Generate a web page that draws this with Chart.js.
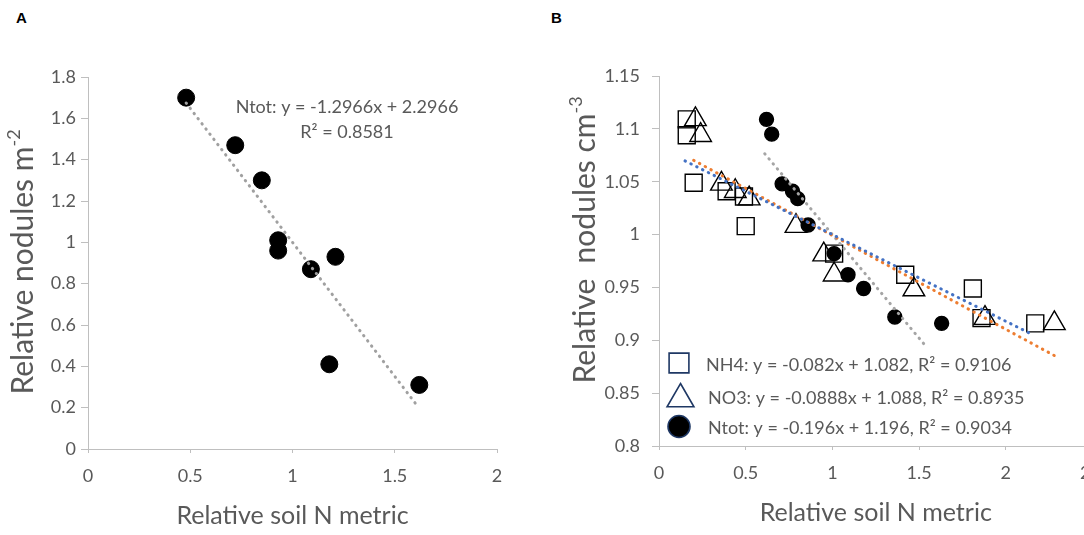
<!DOCTYPE html>
<html>
<head>
<meta charset="utf-8">
<title>Relative nodules vs relative soil N metric</title>
<script src="https://cdn.jsdelivr.net/npm/chart.js@4.4.1/dist/chart.umd.min.js"></script>
<style>
    html, body { margin: 0; padding: 0; background: #fff; width: 1084px; height: 535px; overflow: hidden; }
    .panel { position: absolute; top: 0; height: 535px; }
    #wrapA { left: 0; width: 540px; }
    #wrapB { left: 542px; width: 600px; }
    .tag { position: absolute; top: 10px; font: bold 15px "Liberation Sans", Arial, sans-serif; line-height: 15px; color: #000; }
</style>
</head>
<body>
<div class="tag" style="left:16px">A</div>
<div class="tag" style="left:551px">B</div>
<div class="panel" id="wrapA"><canvas id="chartA" width="540" height="535"></canvas></div>
<div class="panel" id="wrapB"><canvas id="chartB" width="600" height="535"></canvas></div>

<script>
// ---- Panel A: nodules per m2 ----
const xA = [0.48, 0.72, 0.85, 0.93, 0.93, 1.09, 1.21, 1.18, 1.62];
const yA = [1.70, 1.47, 1.30, 1.01, 0.96, 0.87, 0.93, 0.41, 0.31];
const slopeA = -1.2966;
const interceptA = 2.2966;
const trendRangeA = [0.48, 1.60];

// ---- Panel B: nodules per cm3 ----
const xNH4 = [0.16, 0.16, 0.20, 0.39, 0.49, 0.50, 1.01, 1.42, 1.81, 1.86, 2.17];
const yNH4 = [1.109, 1.094, 1.049, 1.041, 1.036, 1.008, 0.982, 0.962, 0.949, 0.921, 0.916];
const xNO3 = [0.21, 0.24, 0.36, 0.44, 0.52, 0.79, 0.95, 1.01, 1.47, 1.88, 2.28];
const yNO3 = [1.109, 1.094, 1.048, 1.041, 1.034, 1.008, 0.981, 0.962, 0.948, 0.921, 0.916];
const xNtot = [0.62, 0.65, 0.71, 0.77, 0.80, 0.86, 1.01, 1.09, 1.18, 1.36, 1.63];
const yNtot = [1.109, 1.095, 1.048, 1.041, 1.034, 1.009, 0.982, 0.962, 0.949, 0.922, 0.916];

const seriesB = ['NH4', 'NO3', 'Ntot'];
const slopesB = [-0.082, -0.0888, -0.196];
const interceptsB = [1.082, 1.088, 1.196];
const r2B = ['0.9106', '0.8935', '0.9034'];
const trendRangesB = [[0.15, 2.14], [0.20, 2.29], [0.61, 1.54]];

const FONT = 'Lato, "Open Sans", sans-serif';
const TEXT = '#595959';
const AXIS = '#bfbfbf';

Chart.defaults.font.family = FONT;
Chart.defaults.color = TEXT;

function points(xs, ys) {
    return xs.map((x, i) => ({ x: x, y: ys[i] }));
}

function trendPoints(range, m, b) {
    return range.map(x => ({ x: x, y: m * x + b }));
}

function fmt(v) {
    return String(Math.round(v * 100) / 100);
}

function sign(v) {
    return v < 0 ? '-' + Math.abs(v) : String(v);
}

// rotated y axis title with a superscript tail
function drawYTitle(ctx, main, sup, baseX, centerY, size) {
    ctx.save();
    ctx.translate(baseX, centerY);
    ctx.rotate(-Math.PI / 2);
    ctx.fillStyle = TEXT;
    ctx.textBaseline = 'alphabetic';
    ctx.textAlign = 'left';
    ctx.font = size + 'px ' + FONT;
    const w1 = ctx.measureText(main).width;
    const supSize = Math.round(size * 0.6);
    ctx.font = supSize + 'px ' + FONT;
    const w2 = ctx.measureText(sup).width;
    const start = -(w1 + w2) / 2;
    ctx.font = size + 'px ' + FONT;
    ctx.fillText(main, start, 0);
    ctx.font = supSize + 'px ' + FONT;
    ctx.fillText(sup, start + w1, -size * 0.42);
    ctx.restore();
}

function axisX(max, title, tickPad, titlePad, height) {
    return {
        type: 'linear',
        min: 0,
        max: max,
        ticks: { stepSize: 0.5, color: TEXT, font: { size: 18 }, padding: tickPad, callback: fmt },
        grid: { display: true, drawOnChartArea: false, drawTicks: true, tickLength: 4, color: AXIS },
        border: { display: true, color: AXIS },
        title: { display: true, text: title, color: TEXT, font: { size: 25 }, padding: { top: 0, bottom: titlePad } },
        afterFit: s => { s.height = height; }
    };
}

function axisY(min, max, step, tickPad, width) {
    return {
        type: 'linear',
        min: min,
        max: max,
        ticks: { stepSize: step, color: TEXT, font: { size: 18 }, padding: tickPad, callback: fmt },
        grid: { display: true, drawOnChartArea: false, drawTicks: true, tickLength: 7, color: AXIS },
        border: { display: true, color: AXIS },
        afterFit: s => { s.width = width; }
    };
}

function drawMarker(ctx, style, radius, x, y) {
    if (Chart.helpers && Chart.helpers.drawPoint) {
        Chart.helpers.drawPoint(ctx, { pointStyle: style, radius: radius, rotation: 0, borderWidth: ctx.lineWidth }, x, y);
    }
}

// Panel A (scatter + dotted trend)
function renderPanelA() {
    const labelsA = {
        id: 'labelsA',
        afterDatasetsDraw(chart) {
            const ctx = chart.ctx;
            drawYTitle(ctx, 'Relative nodules m', '-2', 33, 262, 30);
            ctx.save();
            ctx.fillStyle = TEXT;
            ctx.font = '18px ' + FONT;
            ctx.textAlign = 'center';
            ctx.textBaseline = 'middle';
            ctx.fillText('Ntot: y = ' + sign(slopeA) + 'x + ' + interceptA, 347, 107);
            ctx.fillText('R\u00B2 = 0.8581', 347, 132);
            ctx.restore();
        }
    };

    new Chart(document.getElementById('chartA'), {
        type: 'scatter',
        data: {
            datasets: [{
                label: 'Ntot trend',
                data: trendPoints(trendRangeA, slopeA, interceptA),
                showLine: true,
                pointRadius: 0,
                borderColor: '#a0a0a0',
                borderWidth: 3,
                borderDash: [0.5, 6],
                borderCapStyle: 'round',
                order: 0
            }, {
                label: 'Ntot',
                data: points(xA, yA),
                pointRadius: 8.5,
                pointBackgroundColor: '#000',
                pointBorderColor: '#000',
                pointBorderWidth: 1,
                order: 1
            }]
        },
        options: {
            responsive: false,
            animation: false,
            layout: { padding: { left: 0, top: 77, right: 43, bottom: 0 } },
            scales: {
                x: axisX(2, 'Relative soil N metric', 12, 4, 86),
                y: axisY(0, 1.8, 0.2, 5, 88)
            },
            plugins: { legend: { display: false }, tooltip: { enabled: false } }
        },
        plugins: [labelsA]
    });
}

// Panel B (three series, three dotted trends, legend with equations)
function renderPanelB() {
    const styles = ['rect', 'triangle', 'circle'];
    const radii = [12, 12.5, 7];
    const trendColors = ['#4472c4', '#ed7d31', '#a5a5a5'];
    const xs = [xNH4, xNO3, xNtot];
    const ys = [yNH4, yNO3, yNtot];

    const datasets = [];
    seriesB.forEach((name, i) => {
        datasets.push({
            label: name + ' trend',
            data: trendPoints(trendRangesB[i], slopesB[i], interceptsB[i]),
            showLine: true,
            pointRadius: 0,
            borderColor: trendColors[i],
            borderWidth: 3,
            borderDash: [0.5, 6],
            borderCapStyle: 'round',
            order: 0
        });
        datasets.push({
            label: name,
            data: points(xs[i], ys[i]),
            pointStyle: styles[i],
            pointRadius: radii[i],
            pointBackgroundColor: i === 2 ? '#000' : 'rgba(0,0,0,0)',
            pointBorderColor: '#000',
            pointBorderWidth: 1.4,
            order: 1
        });
    });

    const legendB = {
        id: 'legendB',
        afterDatasetsDraw(chart) {
            const ctx = chart.ctx;
            drawYTitle(ctx, 'Relative  nodules cm', '-3', 53, 240, 30);
            const mk = [[137, 363, 14], [138.5, 399, 15.5], [137, 426.5, 11]];
            const tx = [[164, 365], [166, 398], [166, 428]];
            ctx.save();
            seriesB.forEach((name, i) => {
                ctx.lineWidth = 1.6;
                ctx.strokeStyle = '#1f3864';
                ctx.fillStyle = i === 2 ? '#000' : '#fff';
                drawMarker(ctx, styles[i], mk[i][2], mk[i][0], mk[i][1]);
                ctx.fillStyle = TEXT;
                ctx.font = '18px ' + FONT;
                ctx.textAlign = 'left';
                ctx.textBaseline = 'middle';
                ctx.fillText(name + ': y = ' + sign(slopesB[i]) + 'x + ' + interceptsB[i] + ', R\u00B2 = ' + r2B[i], tx[i][0], tx[i][1]);
            });
            ctx.restore();
        }
    };

    new Chart(document.getElementById('chartB'), {
        type: 'scatter',
        data: { datasets: datasets },
        options: {
            responsive: false,
            animation: false,
            layout: { padding: { left: 0, top: 76, right: 49.5, bottom: 0 } },
            scales: {
                x: axisX(2.5, 'Relative soil N metric', 12, 7, 89),
                y: axisY(0.8, 1.15, 0.05, 12, 117)
            },
            plugins: { legend: { display: false }, tooltip: { enabled: false } }
        },
        plugins: [legendB]
    });
}

document.addEventListener('DOMContentLoaded', function () {
    renderPanelA();
    renderPanelB();
});
</script>
</body>
</html>
